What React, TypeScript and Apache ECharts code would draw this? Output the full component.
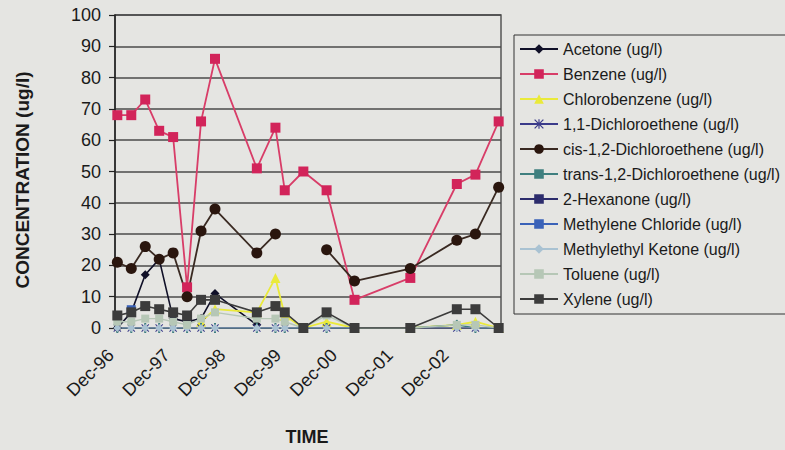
import React, { useEffect, useRef } from "react";
import * as echarts from "echarts";

// Sampling events (year-month)
const SAMPLE_MONTHS = [
  "1996-12", "1997-03", "1997-06", "1997-09", "1997-12", "1998-03",
  "1998-06", "1998-09", "1999-06", "1999-10", "1999-12", "2000-04",
  "2000-09", "2001-03", "2002-03", "2003-01", "2003-05", "2003-10",
];

// Concentrations in ug/l, one value per sampling event (null = not reported)
const ACETONE = [0, 5, 17, 22, 3, 2, 3, 11, 1, null, null, null, null, null, null, null, null, null];
const BENZENE = [68, 68, 73, 63, 61, 13, 66, 86, 51, 64, 44, 50, 44, 9, 16, 46, 49, 66];
const CHLOROBENZENE = [null, null, null, null, null, null, 2, 6, 5, 16, 4, 0, 2, 0, 0, 1, 2, 0];
const DCE_11 = [0, 0, 0, 0, 0, 0, 0, 0, 0, 0, 0, 0, 0, 0, 0, 0, 0, 0];
const CIS_DCE = [21, 19, 26, 22, 24, 10, 31, 38, 24, 30, null, null, 25, 15, 19, 28, 30, 45];
const TRANS_DCE = [0, 0, 0, 0, 0, 0, 0, 0, 0, 0, 0, 0, 0, 0, 0, 1, 0, 0];
const HEXANONE_2 = [0, 0, 0, 0, 0, 0, 0, 0, 0, 0, 0, 0, 0, 0, 0, 0, 0, 0];
const METHYLENE_CHLORIDE = [null, 6, null, null, null, null, null, null, null, null, null, null, null, null, null, null, null, null];
const MEK = [0, 0, 0, 0, 0, 0, 0, 0, 0, 0, 0, 0, 0, 0, 0, 0, 0, 0];
const TOLUENE = [2, 2, 3, 3, 2, 1, 3, 5, 3, 3, 2, 0, 4, 0, 0, 1, 1, 0];
const XYLENE = [4, 5, 7, 6, 5, 4, 9, 9, 5, 7, 5, 0, 5, 0, 0, 6, 6, 0];

// Tick labels along the time axis, one per December
const X_LABELS = ["Dec-96", "Dec-97", "Dec-98", "Dec-99", "Dec-00", "Dec-01", "Dec-02"];
const AXIS_MONTHS = 83; // Dec-96 through Oct-03

const FONT = "Arial, 'Liberation Sans', Helvetica, sans-serif";
const BG = "#e5e5e2";

const ASTERISK =
  "path://M4.4,0H5.6V10H4.4Z M0,0.9L0.9,0L10,9.1L9.1,10Z M9.1,0L10,0.9L0.9,10L0,9.1Z";

function monthIndex(s: string): number {
  const [y, m] = s.split("-").map(Number);
  return (y - 1996) * 12 + (m - 12);
}

function toPoints(values: (number | null)[]) {
  return SAMPLE_MONTHS.map((s, i) => [
    monthIndex(s) + 0.5,
    values[i] == null ? "-" : values[i],
  ]);
}

function line(
  name: string,
  values: (number | null)[],
  color: string,
  symbol: string,
  symbolSize: number | number[],
  width: number,
  lineColor?: string
) {
  return {
    type: "line",
    name,
    data: toPoints(values),
    symbol,
    symbolSize,
    showSymbol: true,
    connectNulls: false,
    lineStyle: { color: lineColor || color, width },
    itemStyle: { color, borderWidth: 0 },
    emphasis: { disabled: true },
  };
}

export default function App() {
  const ref = useRef<HTMLDivElement>(null);

  useEffect(() => {
    if (!ref.current) return;
    document.body.style.background = BG;
    const chart = echarts.init(ref.current, undefined, { renderer: "svg" });

    const series = [
      line("Acetone (ug/l)", ACETONE, "#101028", "diamond", 9, 1.6),
      line("Benzene (ug/l)", BENZENE, "#d2245a", "rect", 10, 1.8, "#d83d68"),
      line("Chlorobenzene (ug/l)", CHLOROBENZENE, "#eaea3a", "triangle", 10, 1.8),
      line("1,1-Dichloroethene (ug/l)", DCE_11, "#3b3b8a", ASTERISK, 8, 1),
      line("cis-1,2-Dichloroethene (ug/l)", CIS_DCE, "#2a160e", "circle", 11, 1.8, "#3a2a22"),
      line("trans-1,2-Dichloroethene (ug/l)", TRANS_DCE, "#3f7f7f", "rect", [2, 10], 1.4),
      line("2-Hexanone (ug/l)", HEXANONE_2, "#2c2c6c", "rect", [5, 3], 1.2),
      line("Methylene Chloride (ug/l)", METHYLENE_CHLORIDE, "#3a62b8", "rect", [9, 8], 1.4),
      line("Methylethyl Ketone (ug/l)", MEK, "#a9c2d2", "diamond", 8, 1.2),
      line("Toluene (ug/l)", TOLUENE, "#b6c7b6", "rect", 8, 1.4),
      line("Xylene (ug/l)", XYLENE, "#3c3c3c", "rect", 10, 1.6),
    ];

    chart.setOption({
      animation: false,
      backgroundColor: BG,
      textStyle: { fontFamily: FONT },
      grid: {
        left: 115,
        top: 15,
        right: 284,
        bottom: 122,
        show: true,
        borderColor: "#555",
        borderWidth: 1.5,
        backgroundColor: "transparent",
      },
      legend: {
        orient: "vertical",
        left: 514,
        top: 35,
        padding: [5, 6, 6, 5],
        itemWidth: 38,
        itemHeight: 12,
        itemGap: 7,
        borderColor: "#333",
        borderWidth: 1,
        textStyle: { fontSize: 16, lineHeight: 18, color: "#1a1a1a", fontFamily: FONT },
        selectedMode: false,
        data: series.map((s) => s.name),
      },
      xAxis: {
        type: "value",
        min: 0,
        max: AXIS_MONTHS,
        interval: 12,
        axisLine: { show: true, lineStyle: { color: "#333", width: 1.5 } },
        axisTick: { show: false },
        splitLine: { show: false },
        axisLabel: {
          rotate: 45,
          fontSize: 18,
          color: "#1a1a1a",
          margin: 20,
          padding: [0, 6, 0, 0],
          showMaxLabel: false,
          formatter: (v: number) => (v % 12 === 0 ? X_LABELS[v / 12] || "" : ""),
        },
      },
      yAxis: {
        type: "value",
        min: 0,
        max: 100,
        interval: 10,
        axisLine: { show: true, lineStyle: { color: "#222", width: 1.5 } },
        axisTick: { show: true, length: 6, lineStyle: { color: "#222", width: 1.2 } },
        splitLine: { show: true, lineStyle: { color: "#4a4a4a", width: 1.5 } },
        axisLabel: { fontSize: 18, color: "#1a1a1a", margin: 14 },
      },
      graphic: [
        {
          type: "text",
          x: 22,
          y: 180,
          rotation: Math.PI / 2,
          style: {
            text: "CONCENTRATION (ug/l)",
            font: `bold 19px ${FONT}`,
            fill: "#1a1a1a",
            align: "center",
            verticalAlign: "middle",
          },
        },
        {
          type: "text",
          x: 307,
          y: 437,
          style: {
            text: "TIME",
            font: `bold 18px ${FONT}`,
            fill: "#1a1a1a",
            align: "center",
            verticalAlign: "middle",
          },
        },
      ],
      series,
    });

    return () => chart.dispose();
  }, []);

  return (
    <div
      ref={ref}
      style={{ position: "fixed", left: 0, top: 0, width: 785, height: 450 }}
    />
  );
}
